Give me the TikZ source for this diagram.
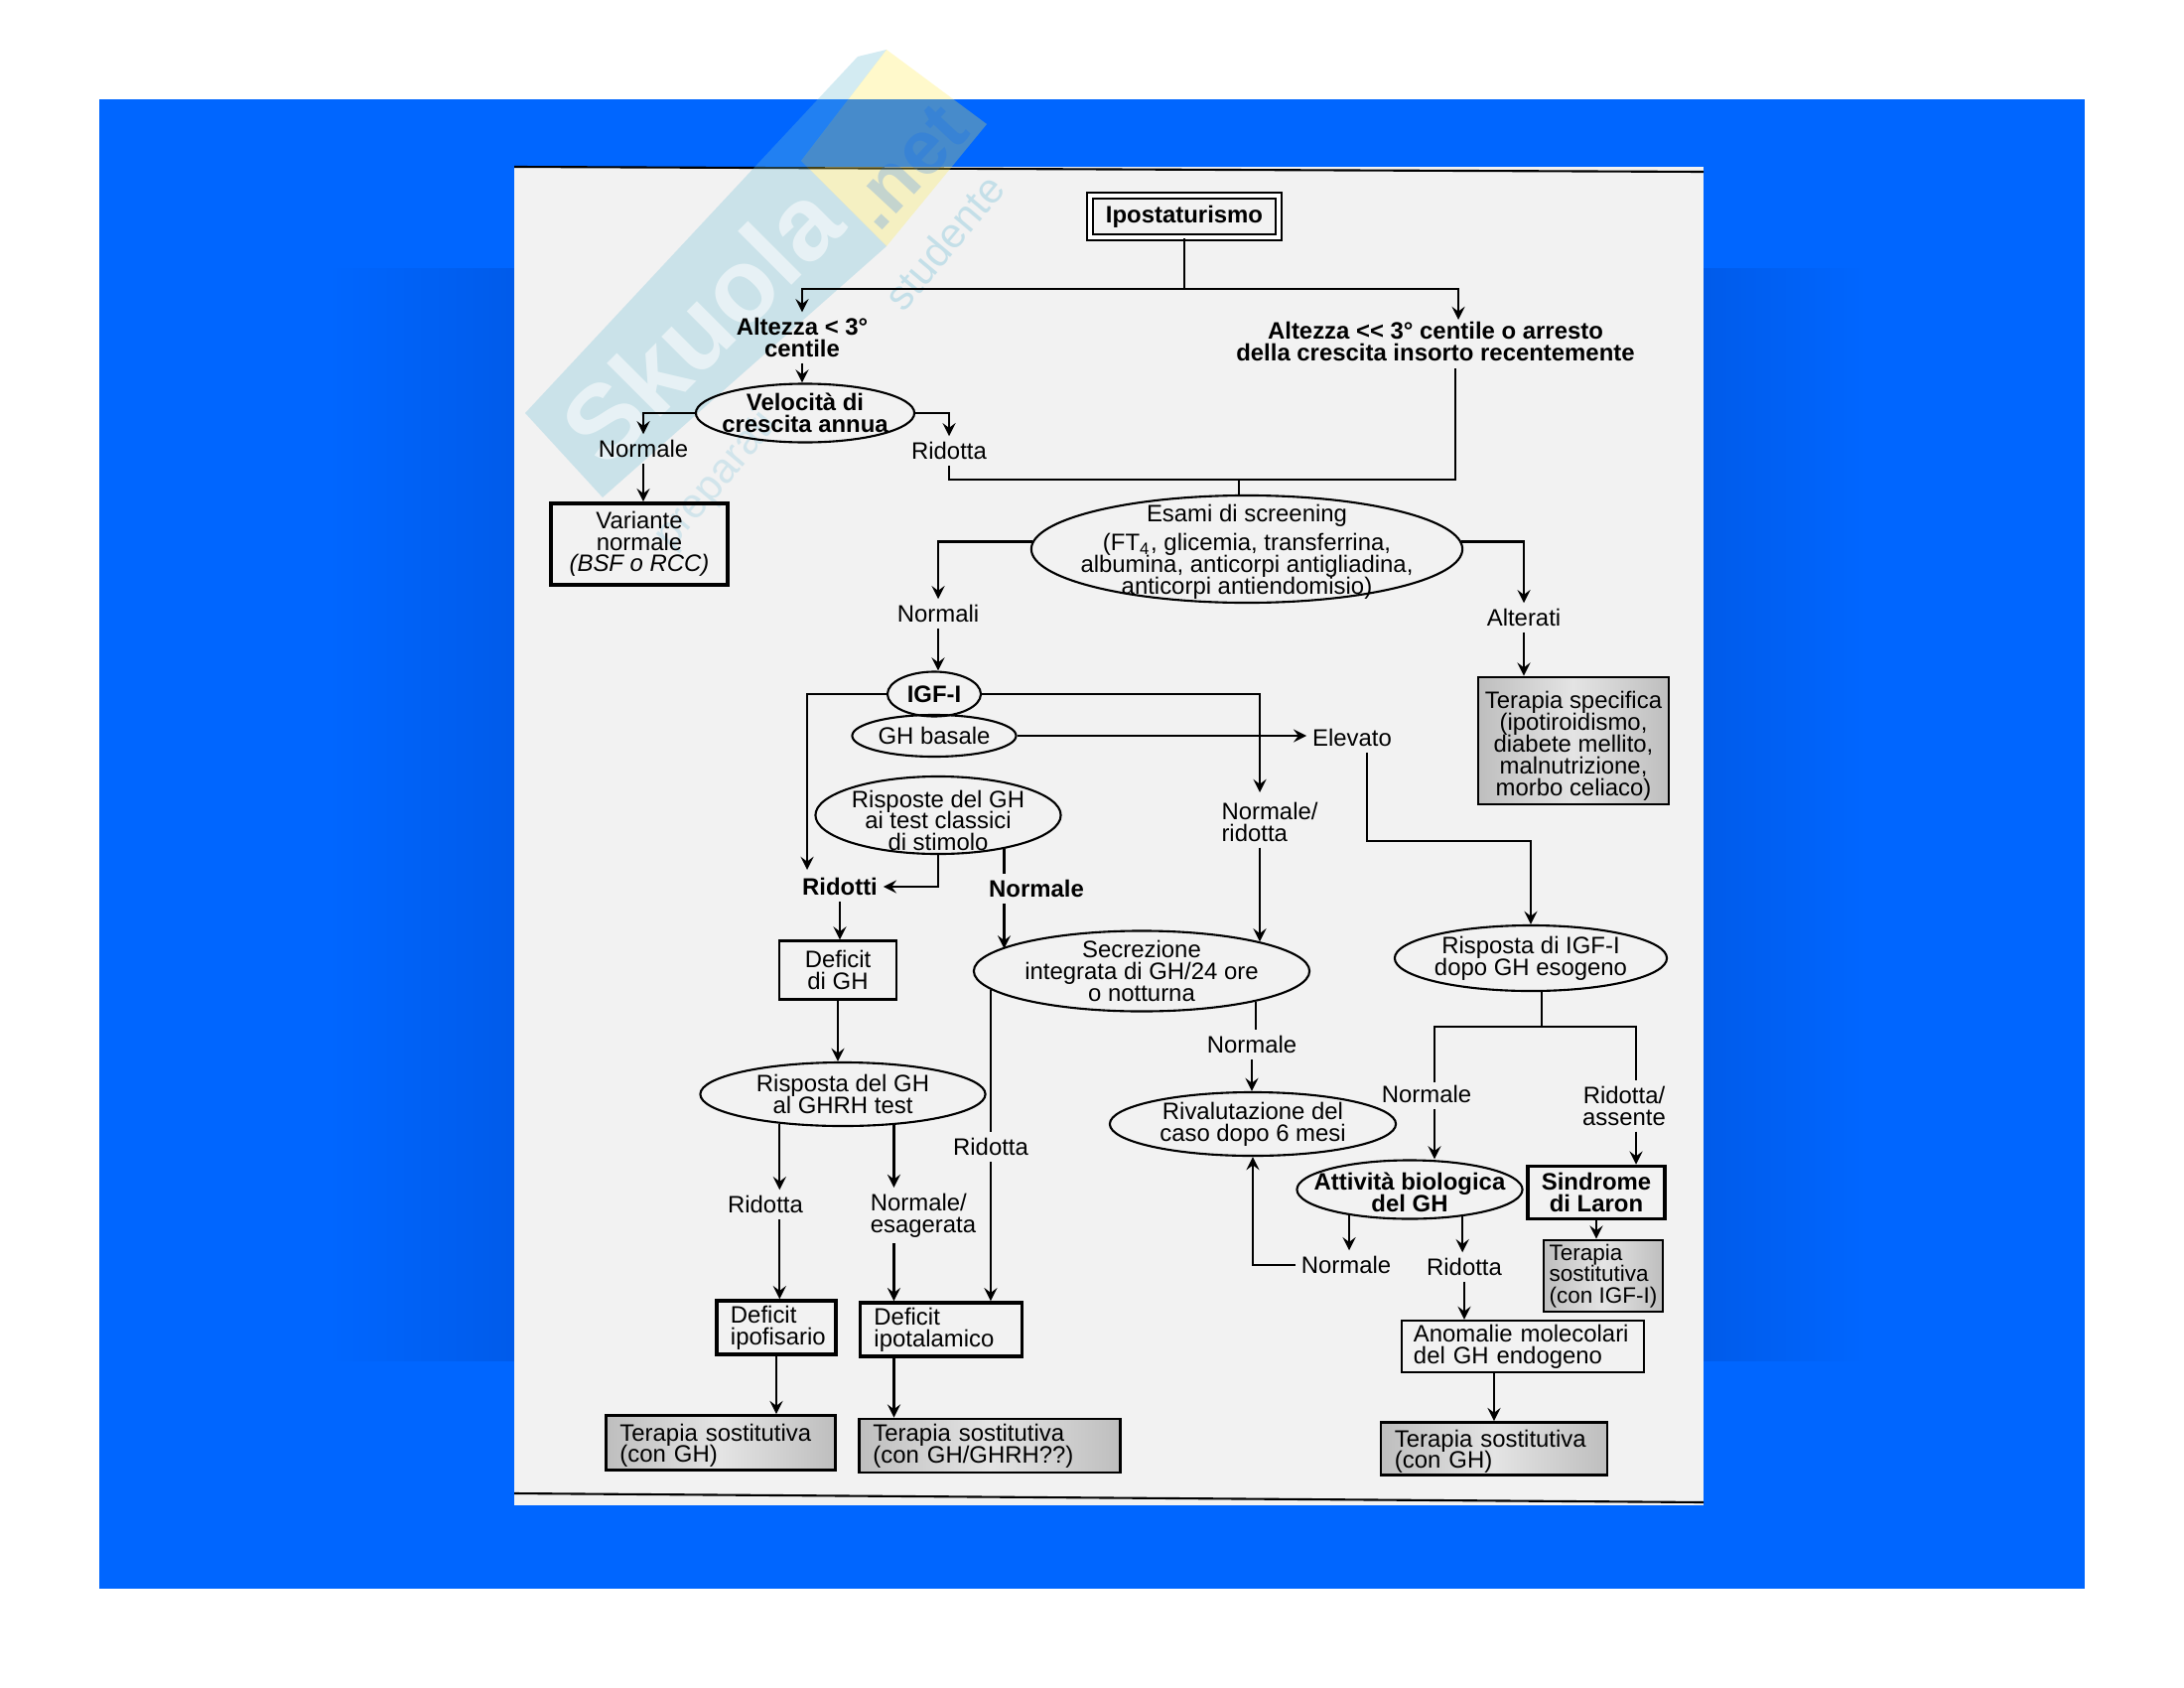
\documentclass[tikz,border=0pt]{standalone}
\usepackage{fontspec}
\setmainfont{Liberation Sans}
\usetikzlibrary{shapes.geometric}
\definecolor{slideblue}{HTML}{0066FF}
\definecolor{slidedark}{HTML}{005BEA}
\definecolor{paper}{HTML}{F2F2F2}
\definecolor{boxdark}{HTML}{BEBEBE}
\definecolor{boxlight}{HTML}{E4E4E4}
\definecolor{markblue}{RGB}{112,190,215}
\definecolor{markyellow}{RGB}{255,235,70}
\newcommand{\txtfont}{\fontsize{6.8}{6.2}\selectfont\lineskiplimit=-10pt\relax}
\newcommand{\smfont}{\fontsize{6.4}{6.2}\selectfont\lineskiplimit=-10pt\relax}
\newcommand{\lowtxt}{\rule{0pt}{8pt}}
\newcommand{\lesstxt}{\rule{0pt}{6.5pt}}
\tikzset{
  every node/.style={font=\txtfont,align=center,inner sep=1.5pt},
  conn/.style={line width=0.6pt},
  arr/.style={line width=0.65pt,-stealth},
  blab/.style={font=\txtfont\bfseries},
  oval/.style={draw,ellipse,line width=0.6pt,inner sep=-0.6cm},
  box/.style={draw,rectangle,line width=0.6pt,inner sep=0pt},
  hbox/.style={box,line width=1pt},
  tbox/.style={box,line width=0.8pt,left color=boxdark,right color=boxdark,middle color=boxlight},
  lbox/.style={align=left,inner xsep=0.14cm},
}
\begin{document}
\begin{tikzpicture}[x=0.01cm,y=-0.01cm]
\useasboundingbox (0,0) rectangle (2200,1700);
\fill[white] (0,0) rectangle (2200,1700);
\fill[slideblue] (100,100) rectangle (2100,1600);
\fill[left color=slideblue,right color=slidedark] (330,270) rectangle (518,1370);
\fill[left color=slidedark,right color=slideblue] (1716,270) rectangle (1880,1370);
\fill[paper] (518,168) rectangle (1716,1516);
\draw[line width=0.6pt] (518,168) -- (1716,173);
\draw[line width=0.6pt] (518,1504) -- (1716,1513);
\fill[markblue,opacity=0.3] (864,57) -- (529,416) -- (607,501) -- (893,248) -- (807,162) -- (893,50) -- cycle;
\fill[markyellow,opacity=0.28] (893,50) -- (994,125) -- (893,248) -- (807,162) -- cycle;
\node[rotate=45,white,opacity=0.55,font=\fontsize{30}{30}\selectfont\bfseries] (mark1) at (706,326) {Skuola};
\node[rotate=47,slideblue,opacity=0.2,font=\fontsize{22}{22}\selectfont\bfseries] (mark2) at (914,168) {.net};
\node[rotate=50,markblue,opacity=0.35,font=\fontsize{12}{12}\selectfont] (mark3) at (951,244) {studente};
\node[rotate=50,markblue,opacity=0.25,font=\fontsize{12}{12}\selectfont] (mark4) at (722,484) {preparati};

\node[box,double,double distance=1.2pt,minimum width=1.9cm,minimum height=0.42cm,blab] (ipo) at (1193,218) {Ipostaturismo};
\node[blab] (alt1) at (808,340) {Altezza < 3°\\centile};
\node[blab] (alt2) at (1446,344) {Altezza <{}< 3° centile o arresto\\della crescita insorto recentemente};
\node[oval,blab,minimum width=2.2cm,minimum height=0.59cm] (vel) at (811,416) {Velocità di\\crescita annua};
\node (nor1) at (648,452) {Normale};
\node (rid1) at (956,454) {Ridotta};
\node[hbox,minimum width=1.78cm,minimum height=0.82cm] (var) at (644,548) {Variante\\normale\\\textit{(BSF o RCC)}};
\node[oval,minimum width=4.34cm,minimum height=1.08cm] (esa) at (1256,553) {\lesstxt Esami di screening\\[2pt](FT\textsubscript{4}, glicemia, transferrina,\\albumina, anticorpi antigliadina,\\anticorpi antiendomisio)};
\node (nor2) at (945,618) {Normali};
\node (alt3) at (1535,622) {Alterati};
\node[oval,blab,minimum width=0.94cm,minimum height=0.45cm] (igf) at (941,699) {IGF-I};
\node[oval,minimum width=1.65cm,minimum height=0.42cm] (ghb) at (941,741) {GH basale};
\node (ele) at (1362,743) {Elevato};
\node[tbox,minimum width=1.92cm,minimum height=1.28cm] (tsp) at (1585,746) {\lowtxt Terapia specifica\\(ipotiroidismo,\\diabete mellito,\\malnutrizione,\\morbo celiaco)};
\node[oval,minimum width=2.47cm,minimum height=0.78cm] (ris3) at (945,821) {\lowtxt Risposte del GH\\ai test classici\\di stimolo};
\node[align=left] (nrd) at (1279,828) {Normale/\\ridotta};
\node[blab] (rti) at (846,893) {Ridotti};
\node[blab] (nb) at (1044,895) {Normale};
\node[box,minimum width=1.18cm,minimum height=0.59cm] (dgh) at (844,977) {Deficit\\di GH};
\node[oval,minimum width=3.38cm,minimum height=0.81cm] (sec) at (1150,978) {Secrezione\\integrata di GH/24 ore\\o notturna};
\node[oval,minimum width=2.74cm,minimum height=0.66cm] (igfr) at (1542,965) {Risposta di IGF-I\\dopo GH esogeno};
\node (nor3) at (1261,1052) {Normale};
\node[oval,minimum width=2.87cm,minimum height=0.64cm] (rgh) at (849,1102) {Risposta del GH\\al GHRH test};
\node[oval,minimum width=2.88cm,minimum height=0.64cm] (riv) at (1262,1132) {Rivalutazione del\\caso dopo 6 mesi};
\node (nor4) at (1437,1102) {Normale};
\node (ra) at (1636,1114) {Ridotta/\\assente};
\node (rid2) at (998,1155) {Ridotta};
\node[oval,blab,minimum width=2.27cm,minimum height=0.59cm] (att) at (1420,1198) {\lesstxt Attività biologica\\del GH};
\node[hbox,blab,minimum width=1.38cm,minimum height=0.53cm] (sl) at (1608,1201) {Sindrome\\di Laron};
\node (rid3) at (771,1213) {Ridotta};
\node[align=left] (ne) at (930,1224) {Normale/\\esagerata};
\node (nor5) at (1356,1274) {Normale};
\node (rid4) at (1475,1276) {Ridotta};
\node[tbox,align=left,minimum width=1.2cm,minimum height=0.72cm,font=\smfont] (tig) at (1615,1285) {Terapia\\sostitutiva\\(con IGF-I)};
\node[hbox,lbox,text width=0.92cm,minimum height=0.54cm] (dpf) at (782,1337) {Deficit\\ipofisario};
\node[hbox,lbox,text width=1.35cm,minimum height=0.54cm] (dip) at (948,1339) {Deficit\\ipotalamico};
\node[box,lbox,inner xsep=0.12cm,text width=2.2cm,minimum height=0.52cm] (ano) at (1534,1356) {Anomalie molecolari\\del GH endogeno};
\node[tbox,lbox,text width=2.03cm,minimum height=0.55cm] (tl) at (726,1453) {\lesstxt Terapia sostitutiva\\(con GH)};
\node[tbox,lbox,text width=2.35cm,minimum height=0.54cm] (tc) at (997,1456) {Terapia sostitutiva\\(con GH/GHRH??)};
\node[tbox,lbox,text width=2.0cm,minimum height=0.53cm] (tr) at (1505,1459) {\lesstxt Terapia sostitutiva\\(con GH)};

\coordinate (ipoj) at (1193,291);
\coordinate (a2top) at (1469,322);
\coordinate (a2bot) at (1466,371);
\coordinate (scrj) at (1248,483);
\coordinate (nrtop) at (1269,798);
\coordinate (rtop) at (813,876);
\coordinate (elej) at (1377,847);
\coordinate (jn) at (1553,1034);
\coordinate (nl) at (1445,1090);
\coordinate (nr) at (1648,1088);

\draw[conn] (ipo.south) -- (ipoj);
\draw[arr] (ipoj) -| (alt1.north);
\draw[arr] (ipoj) -| (a2top);
\draw[arr] (alt1.south) -- (alt1.south |- vel.north);
\draw[arr] (vel.west) -| (nor1.north);
\draw[arr] (vel.east) -| (rid1.north);
\draw[arr] (nor1.south) -- (nor1.south |- var.north);
\draw[conn] (rid1.south) |- (scrj) -| (a2bot);
\draw[conn] (scrj) -- (scrj |- esa.north);
\draw[arr] (esa.178) -| (nor2.north);
\draw[arr] (esa.2) -| (alt3.north);
\draw[arr] (nor2.south) -- (nor2.south |- igf.north);
\draw[arr] (alt3.south) -- (alt3.south |- tsp.north);
\draw[arr] (igf.west) -| (rtop);
\draw[arr] (igf.east) -| (nrtop);
\draw[arr] (nrtop |- nrd.south) -- (nrtop |- sec.14);
\draw[arr] (ghb.east) -- (ghb.east -| ele.west);
\draw[arr] (elej |- ele.south) -- (elej) -| (igfr.north);
\draw[arr] (ris3.south) |- (rti.east);
\draw[conn] (ris3.-27) -- (ris3.-27 |- nb.north);
\draw[arr] (nb.south -| ris3.-27) -- (ris3.-27 |- sec.171);
\draw[arr] (rti.south) -- (rti.south |- dgh.north);
\draw[arr] (dgh.south) -- (dgh.south |- rgh.north);
\draw[conn] (sec.187.5) -- (sec.187.5 |- rid2.north);
\draw[arr] (rid2.south -| sec.187.5) -- (sec.187.5 |- dip.north);
\draw[conn] (sec.-15) -- (sec.-15 |- nor3.north);
\draw[arr] (nor3.south) -- (nor3.south |- riv.north);
\draw[arr] (rgh.205) -- (rgh.205 |- rid3.north);
\draw[arr] (rid3.south -| rgh.205) -- (rgh.205 |- dpf.north);
\draw[arr] (rgh.-31) -- (rgh.-31 |- ne.north);
\draw[arr] (ne.south -| rgh.-31) -- (rgh.-31 |- dip.north);
\draw[arr] (dpf.south) -- (dpf.south |- tl.north);
\draw[arr] (rgh.-31 |- dip.south) -- (rgh.-31 |- tc.north);
\draw[conn] (igfr.-72) -- (igfr.-72 |- jn);
\draw[conn] (nl) |- (jn) -| (nr);
\draw[arr] (nl |- nor4.south) -- (nl |- att.north);
\draw[arr] (nr |- ra.south) -- (nr |- sl.north);
\draw[arr] (sl.south) -- (sl.south |- tig.north);
\draw[arr] (att.203) -- (att.203 |- nor5.north);
\draw[arr] (nor5.west) -| (riv.south);
\draw[arr] (att.-27) -- (att.-27 |- rid4.north);
\draw[arr] (rid4.south) -- (rid4.south |- ano.north);
\draw[arr] (tr.north |- ano.south) -- (tr.north);
\end{tikzpicture}
\end{document}
